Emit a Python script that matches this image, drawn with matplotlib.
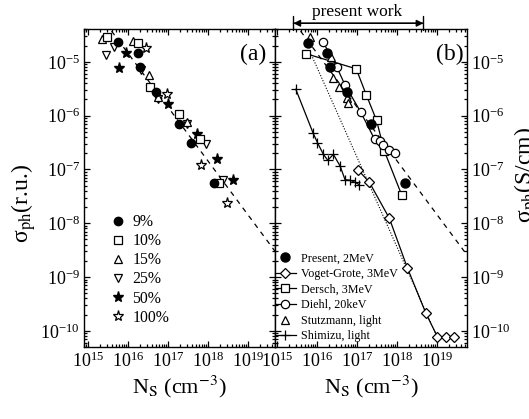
import numpy as np
import matplotlib
matplotlib.use('Agg')
import matplotlib.pyplot as plt
from matplotlib.ticker import LogLocator, NullFormatter

plt.rcParams['font.family'] = ['Liberation Serif', 'DejaVu Serif']
plt.rcParams['mathtext.fontset'] = 'stix'

# --- panel (a): log10(N_S) and log10(sigma_ph) ---
n_9 = [15.76, 16.24, 16.31, 16.71, 17.28, 17.59, 18.15]
s_9 = [-4.64, -4.84, -5.09, -5.57, -6.15, -6.51, -7.26]
n_10 = [15.47, 16.25, 16.55, 17.29, 17.81, 18.29]
s_10 = [-4.54, -4.65, -5.47, -5.97, -6.44, -7.26]
n_15 = [15.34, 16.12, 16.53, 16.75, 17.48]
s_15 = [-4.58, -4.61, -5.25, -5.65, -6.11]
n_25 = [15.45, 15.66, 16.32, 16.75, 17.48, 17.95, 18.38]
s_25 = [-4.88, -4.73, -5.16, -5.69, -6.15, -6.52, -7.19]
n_50 = [15.78, 15.95, 17.01, 17.73, 18.22, 18.63]
s_50 = [-5.12, -4.83, -5.78, -6.34, -6.80, -7.20]
n_100 = [16.44, 16.97, 17.82, 18.48]
s_100 = [-4.75, -5.59, -6.91, -7.62]

# slope -1 guide (dashed), both panels
guide_n = [14.5, 20.0]
guide_s = [-3.34, -8.84]

# --- panel (b) ---
present_n = [15.78, 16.26, 16.33, 16.74, 17.34, 18.19]
present_s = [-4.65, -4.84, -5.10, -5.57, -6.15, -7.25]
voget_n = [17.03, 17.31, 17.81, 18.26, 18.72, 19.01, 19.22, 19.43]
voget_s = [-7.01, -7.24, -7.91, -8.83, -9.67, -10.11, -10.11, -10.11]
dersch_n = [15.73, 16.98, 17.23, 17.49, 17.68, 18.12]
dersch_s = [-4.85, -5.13, -5.61, -6.09, -6.65, -7.48]
diehl_n = [16.15, 16.49, 16.70, 17.09, 17.44, 17.58, 17.64, 17.81, 17.96]
diehl_s = [-4.63, -5.09, -5.43, -5.93, -6.44, -6.48, -6.55, -6.64, -6.69]
stutz_n = [15.83, 16.34, 16.40, 16.55, 16.74, 16.78]
stutz_s = [-4.54, -4.91, -5.30, -5.46, -5.68, -5.76]
shimizu_n = [15.47, 15.90, 16.01, 16.16, 16.27, 16.41, 16.58, 16.70, 16.83, 16.95, 17.05]
shimizu_s = [-5.51, -6.32, -6.50, -6.72, -6.83, -6.72, -6.94, -7.19, -7.20, -7.24, -7.28]
dotted_n = [15.86, 19.0]
dotted_s = [-4.87, -10.11]

arrow_n = [15.41, 18.66]


def p(v):
    return 10.0 ** np.array(v)


fig = plt.figure(figsize=(5.29, 4.19), dpi=100)
ax_a = fig.add_axes([84 / 529, 72 / 419, 191 / 529, 318 / 419])
ax_b = fig.add_axes([275 / 529, 72 / 419, 192 / 529, 318 / 419])

ms = 6
open_kw = dict(mfc='white', mec='black', mew=0.9, ls='none')

# panel (a)
ax_a.plot(p(guide_n), p(guide_s), ls=(0, (4, 4)), color='black', lw=0.9)
ax_a.plot(p(n_100), p(s_100), marker='*', ms=ms + 2, label='100%', **open_kw)
ax_a.plot(p(n_50), p(s_50), marker='*', ms=ms + 2, color='black', ls='none', label='50%')
ax_a.plot(p(n_25), p(s_25), marker='v', ms=ms, label='25%', **open_kw)
ax_a.plot(p(n_15), p(s_15), marker='^', ms=ms, label='15%', **open_kw)
ax_a.plot(p(n_10), p(s_10), marker='s', ms=ms - 0.5, label='10%', **open_kw)
ax_a.plot(p(n_9), p(s_9), marker='o', ms=ms, color='black', ls='none', label='9%')

handles, labels = ax_a.get_legend_handles_labels()
order = ['9%', '10%', '15%', '25%', '50%', '100%']
hmap = dict(zip(labels, handles))
ax_a.legend([hmap[k] for k in order], order, loc='upper left',
            bbox_to_anchor=(0.135, 0.418), frameon=False, fontsize=11.3,
            handlelength=1.0, handletextpad=0.45, borderpad=0,
            borderaxespad=0, labelspacing=0.2, numpoints=1)

ax_a.text(0.955, 0.92, '(a)', transform=ax_a.transAxes, ha='right', va='center', fontsize=17)

# panel (b)
ax_b.plot(p(guide_n), p(guide_s), ls=(0, (4, 4)), color='black', lw=0.9)
ax_b.plot(p(dotted_n), p(dotted_s), ls=(0, (1, 1.5)), color='black', lw=0.8)
line_kw = dict(color='black', lw=0.9, mfc='white', mec='black', mew=0.9)
ax_b.plot(p(shimizu_n), p(shimizu_s), marker='+', ms=7, label='Shimizu, light', **line_kw)
ax_b.plot(p(voget_n), p(voget_s), marker='D', ms=5.5, label='Voget-Grote, 3MeV', **line_kw)
ax_b.plot(p(dersch_n), p(dersch_s), marker='s', ms=5.5, label='Dersch, 3MeV', **line_kw)
ax_b.plot(p(diehl_n), p(diehl_s), marker='o', ms=6, label='Diehl, 20keV', **line_kw)
ax_b.plot(p(stutz_n), p(stutz_s), marker='^', ms=6, label='Stutzmann, light', **open_kw)
ax_b.plot(p(present_n), p(present_s), marker='o', ms=6.5, color='black', ls='none',
          label='Present, 2MeV')

handles, labels = ax_b.get_legend_handles_labels()
order_b = ['Present, 2MeV', 'Voget-Grote, 3MeV', 'Dersch, 3MeV', 'Diehl, 20keV',
           'Stutzmann, light', 'Shimizu, light']
hmap = dict(zip(labels, handles))
ax_b.legend([hmap[k] for k in order_b], order_b, loc='upper left',
            bbox_to_anchor=(0.0, 0.298), frameon=False, fontsize=8.7,
            handlelength=1.7, handletextpad=0.45, borderpad=0,
            borderaxespad=0, labelspacing=0.3, numpoints=1)

ax_b.text(0.985, 0.92, '(b)', transform=ax_b.transAxes, ha='right', va='center', fontsize=17)

# "present work" range marker above panel (b)
ax_b.annotate('', xy=(10 ** arrow_n[0], 1.018), xytext=(10 ** arrow_n[1], 1.018),
              xycoords=('data', 'axes fraction'), textcoords=('data', 'axes fraction'),
              arrowprops=dict(arrowstyle='<|-|>', color='black', lw=1.0,
                              mutation_scale=10, shrinkA=0, shrinkB=0),
              annotation_clip=False)
ax_b.annotate('', xy=(10 ** arrow_n[0], 1.018), xytext=(10 ** arrow_n[1], 1.018),
              xycoords=('data', 'axes fraction'), textcoords=('data', 'axes fraction'),
              arrowprops=dict(arrowstyle='|-|, widthA=0.5, widthB=0.5', color='black',
                              lw=1.0, mutation_scale=10, shrinkA=0, shrinkB=0),
              annotation_clip=False)
ax_b.annotate('present work', xy=(10 ** 17.0, 1.053), xycoords=('data', 'axes fraction'),
              ha='center', va='center', fontsize=12.5, annotation_clip=False)

# axes styling
for ax, xl in ((ax_a, (10 ** 14.9, 10 ** 19.68)), (ax_b, (10 ** 14.95, 10 ** 19.75))):
    ax.set_xscale('log')
    ax.set_yscale('log')
    ax.set_xlim(*xl)
    ax.set_ylim(10 ** -10.3, 10 ** -4.39)
    ax.xaxis.set_major_locator(LogLocator(base=10, numticks=20))
    ax.xaxis.set_minor_locator(LogLocator(base=10, subs=np.arange(2, 10), numticks=20))
    ax.yaxis.set_major_locator(LogLocator(base=10, numticks=20))
    ax.yaxis.set_minor_locator(LogLocator(base=10, subs=np.arange(2, 10), numticks=20))
    ax.xaxis.set_minor_formatter(NullFormatter())
    ax.yaxis.set_minor_formatter(NullFormatter())
    ax.tick_params(which='both', direction='in', top=True, right=True, left=True,
                   labelsize=13, width=0.9)
    ax.tick_params(which='major', length=4.5, pad=3)
    ax.tick_params(which='minor', length=2.2)
    for sp in ax.spines.values():
        sp.set_linewidth(1.0)
    ax.set_xlabel(r'N$_{\rm S}$ (cm$^{-3}$)', fontsize=16, labelpad=2)

ax_b.tick_params(labelleft=False, labelright=True)
ax_a.set_ylabel(r'σ$_{\rm ph}$(r.u.)', fontsize=17)
ax_a.yaxis.set_label_coords(-0.24, 0.45)
ax_b.yaxis.set_label_position('right')
ax_b.set_ylabel(r'σ$_{\rm ph}$(S/cm)', fontsize=17)
ax_b.yaxis.set_label_coords(1.235, 0.54)

fig.savefig('out.png', dpi=100)
